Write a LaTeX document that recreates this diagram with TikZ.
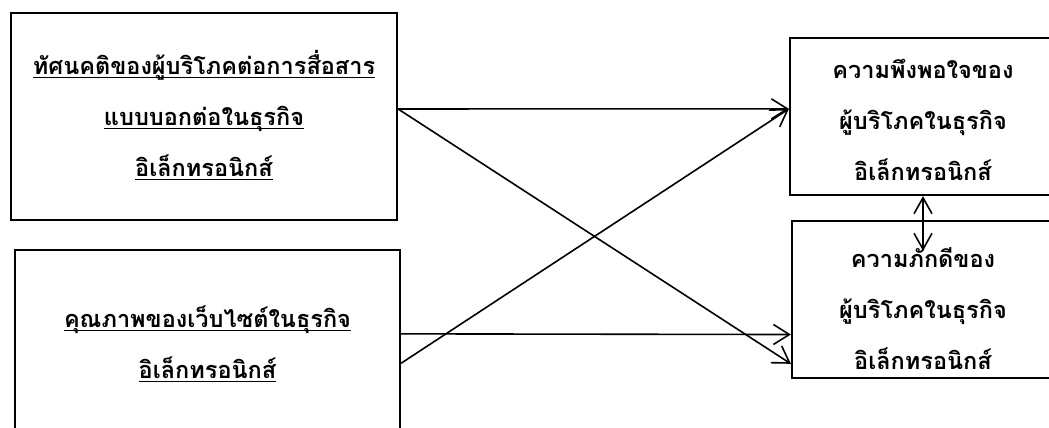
\documentclass[tikz,border=0pt]{standalone}
\usepackage{fontspec}
\newfontfamily\thaifont[Script=Thai]{Loma}
\usetikzlibrary{arrows.meta,calc}
\newcommand\thul[1]{\underline{\smash{#1}\rule[-1.5pt]{0pt}{0pt}}}
\begin{document}
\begin{tikzpicture}[x=1pt,y=-1pt,
    factor/.style={draw=black,line width=2.2pt,inner sep=0pt},
    caption/.style={align=center,inner sep=0pt,
                    font=\thaifont\bfseries\fontsize{23.5}{51}\selectfont},
    link/.style={line width=1.6pt,-{Straight Barb[length=16pt,width=20pt,line width=1.6pt]}},
    mutual/.style={line width=1.6pt,{Straight Barb[length=16pt,width=18pt,line width=1.6pt]}-{Straight Barb[length=16pt,width=18pt,line width=1.6pt]}}
  ]
    \clip (0,0) rectangle (1049,428);

    % boxes
    \node[factor,minimum width=386pt,minimum height=207pt] (attitude) at (204,116.5) {};
    \node[factor,minimum width=385pt,minimum height=190pt] (quality) at (207.5,345) {};
    \node[factor,minimum width=266pt,minimum height=157pt] (satisfy) at (923,116.5) {};
    \node[factor,minimum width=262pt,minimum height=157pt] (loyalty) at (923,299.5) {};

    % texts
    \node[caption] (attitudetxt) at ([yshift=-11pt]attitude.center)
      {\thul{ทัศนคติของผู้บริโภคต่อการสื่อสาร}\\\thul{แบบบอกต่อในธุรกิจ}\\\thul{อิเล็กทรอนิกส์}};
    \node[caption] (qualitytxt) at ([yshift=-10pt]quality.center)
      {\thul{คุณภาพของเว็บไซต์ในธุรกิจ}\\\thul{อิเล็กทรอนิกส์}};
    \node[caption] (satisfytxt) at ([yshift=-3pt]satisfy.center)
      {ความพึงพอใจของ\\ผู้บริโภคในธุรกิจ\\อิเล็กทรอนิกส์};
    \node[caption] (loyaltytxt) at ([yshift=-9pt]loyalty.center)
      {ความภักดีของ\\ผู้บริโภคในธุรกิจ\\อิเล็กทรอนิกส์};

    \draw[link] ($(attitude.north east)!0.464!(attitude.south east)$)
      -- ($(satisfy.north west)!0.452!(satisfy.south west)$);
    \draw[link] ($(attitude.north east)!0.464!(attitude.south east)$)
      -- ($(loyalty.north west)!0.904!(loyalty.south west)$);
    \draw[link] ($(quality.north east)!0.442!(quality.south east)$)
      -- ($(loyalty.north west)!0.72!(loyalty.south west)$);
    \draw[link] ($(quality.north east)!0.595!(quality.south east)$)
      -- ($(satisfy.north west)!0.452!(satisfy.south west)$);

    \draw[mutual] (satisfy.south) -- ([yshift=-31pt]loyalty.north);
  \end{tikzpicture}
\end{document}
